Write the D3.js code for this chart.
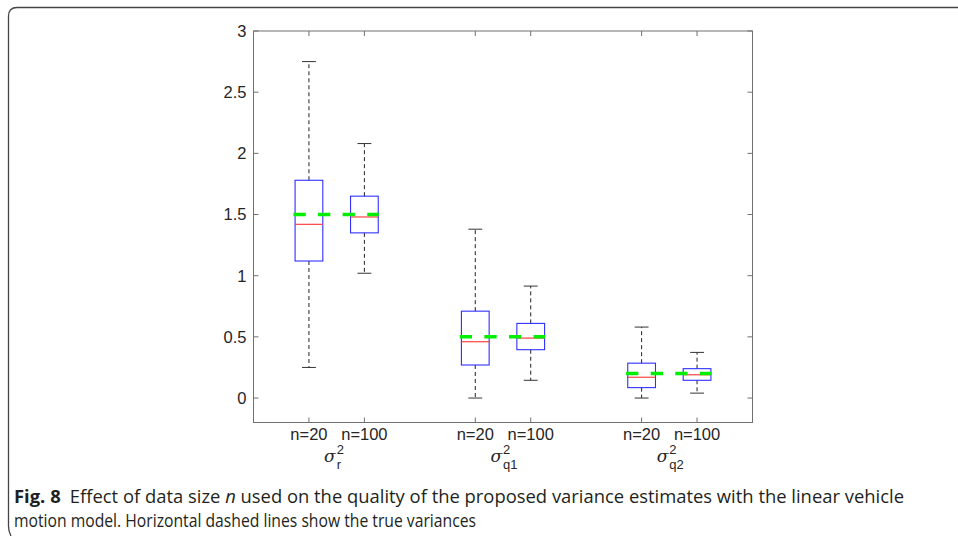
<!DOCTYPE html>
<html>
<head>
<meta charset="utf-8">
<script src="https://cdn.jsdelivr.net/npm/d3@7"></script>
<style>
  body { margin: 0; background: #fff; }
  svg { display: block; }
  .tick-label { font-family: "Liberation Sans", Arial, sans-serif; font-size: 16.5px; fill: #262626; }
  .caption { font-family: "Open Sans", "Noto Sans", sans-serif; font-size: 18.5px; fill: #231f20; }
</style>
</head>
<body>
<div id="chart"></div>
<script>
'use strict';

// box plot summaries (order: r n=20, r n=100, q1 n=20, q1 n=100, q2 n=20, q2 n=100)
const groupSubscripts = ['r', 'q1', 'q2'];
const sizeLabels = ['n=20', 'n=100', 'n=20', 'n=100', 'n=20', 'n=100'];
const positions = [1, 2, 4, 5, 7, 8];
const lowerWhisker = [0.25, 1.02, 0.0, 0.145, 0.0, 0.04];
const lowerQuartile = [1.12, 1.35, 0.27, 0.395, 0.085, 0.145];
const medians = [1.42, 1.48, 0.46, 0.49, 0.17, 0.19];
const upperQuartile = [1.78, 1.65, 0.71, 0.61, 0.285, 0.24];
const upperWhisker = [2.75, 2.08, 1.38, 0.915, 0.58, 0.373];
const trueVariances = [1.5, 0.5, 0.2];
const yTicks = [0, 0.5, 1, 1.5, 2, 2.5, 3];

const width = 958;
const height = 536;
const plot = { left: 253.5, right: 752.5, top: 31, bottom: 422.5 };

const svg = d3.select('#chart').append('svg')
  .attr('width', width)
  .attr('height', height);

const x = d3.scaleLinear().domain([0, 9]).range([plot.left, plot.right]);
const y = d3.scaleLinear().domain([-0.2, 3]).range([plot.bottom, plot.top]);

// outer figure frame (only top and left edges visible)
svg.append('path')
  .attr('d', `M${width},7.5 L17,7.5 Q8.5,7.5 8.5,16 L8.5,526 Q8.5,532 11,536`)
  .attr('fill', 'none')
  .attr('stroke', '#444')
  .attr('stroke-width', 1.3);

// axes box
const axisColor = '#707070';
svg.append('rect')
  .attr('x', plot.left).attr('y', plot.top)
  .attr('width', plot.right - plot.left).attr('height', plot.bottom - plot.top)
  .attr('fill', 'none').attr('stroke', axisColor).attr('stroke-width', 1);

// y ticks (left and right, pointing inward)
const yTickG = svg.append('g');
yTicks.forEach(t => {
  yTickG.append('line')
    .attr('x1', plot.left).attr('x2', plot.left + 5)
    .attr('y1', y(t)).attr('y2', y(t))
    .attr('stroke', axisColor);
  yTickG.append('line')
    .attr('x1', plot.right).attr('x2', plot.right - 5)
    .attr('y1', y(t)).attr('y2', y(t))
    .attr('stroke', axisColor);
  yTickG.append('text')
    .attr('class', 'tick-label')
    .attr('x', plot.left - 7).attr('y', y(t))
    .attr('dy', '0.36em')
    .attr('text-anchor', 'end')
    .text(d3.format('~g')(t));
});

// x ticks (bottom and top)
const xTickG = svg.append('g');
positions.forEach((p, i) => {
  xTickG.append('line')
    .attr('x1', x(p)).attr('x2', x(p))
    .attr('y1', plot.bottom).attr('y2', plot.bottom - 5)
    .attr('stroke', axisColor);
  xTickG.append('line')
    .attr('x1', x(p)).attr('x2', x(p))
    .attr('y1', plot.top).attr('y2', plot.top + 5)
    .attr('stroke', axisColor);
  xTickG.append('text')
    .attr('class', 'tick-label')
    .attr('x', x(p)).attr('y', plot.bottom + 17)
    .attr('text-anchor', 'middle')
    .text(sizeLabels[i]);
});

// group labels: sigma^2 with subscript
groupSubscripts.forEach((sub, g) => {
  const cx = x((positions[2 * g] + positions[2 * g + 1]) / 2);
  const lab = svg.append('g').attr('transform', `translate(${cx},0)`);
  lab.append('text')
    .attr('class', 'tick-label')
    .attr('x', -1).attr('y', plot.bottom + 39)
    .attr('text-anchor', 'end')
    .style('font-family', '"DejaVu Serif", serif')
    .style('font-style', 'italic')
    .style('font-size', '17px')
    .text('σ');
  lab.append('text')
    .attr('class', 'tick-label')
    .attr('x', 0).attr('y', plot.bottom + 31)
    .style('font-size', '13px')
    .text('2');
  lab.append('text')
    .attr('class', 'tick-label')
    .attr('x', 0).attr('y', plot.bottom + 46)
    .style('font-size', '13px')
    .text(sub);
});

// box plots
const boxHalf = 0.25;
const capHalf = 0.125;
const boxes = svg.append('g');
positions.forEach((p, i) => {
  const b = boxes.append('g');
  // whiskers
  b.append('line')
    .attr('x1', x(p)).attr('x2', x(p))
    .attr('y1', y(upperQuartile[i])).attr('y2', y(upperWhisker[i]))
    .attr('stroke', '#222').attr('stroke-dasharray', '4,3');
  b.append('line')
    .attr('x1', x(p)).attr('x2', x(p))
    .attr('y1', y(lowerQuartile[i])).attr('y2', y(lowerWhisker[i]))
    .attr('stroke', '#222').attr('stroke-dasharray', '4,3');
  // caps
  [upperWhisker[i], lowerWhisker[i]].forEach(v => {
    b.append('line')
      .attr('x1', x(p - capHalf)).attr('x2', x(p + capHalf))
      .attr('y1', y(v)).attr('y2', y(v))
      .attr('stroke', '#333');
  });
  // box
  b.append('rect')
    .attr('x', x(p - boxHalf)).attr('y', y(upperQuartile[i]))
    .attr('width', x(p + boxHalf) - x(p - boxHalf))
    .attr('height', y(lowerQuartile[i]) - y(upperQuartile[i]))
    .attr('fill', 'none').attr('stroke', '#3030ff').attr('stroke-width', 1.1);
  // median
  b.append('line')
    .attr('x1', x(p - boxHalf)).attr('x2', x(p + boxHalf))
    .attr('y1', y(medians[i])).attr('y2', y(medians[i]))
    .attr('stroke', '#ff3030').attr('stroke-width', 1.1);
});

// true variances (green dashed)
trueVariances.forEach((v, g) => {
  svg.append('line')
    .attr('x1', x(positions[2 * g] - 0.28)).attr('x2', x(positions[2 * g + 1] + 0.26))
    .attr('y1', y(v)).attr('y2', y(v))
    .attr('stroke', '#00ee00')
    .attr('stroke-width', 3.5)
    .attr('stroke-dasharray', '12.3,12.3');
});

// caption
const cap1 = svg.append('text').attr('class', 'caption')
  .attr('x', 14).attr('y', 503)
  .attr('textLength', 890).attr('lengthAdjust', 'spacingAndGlyphs');
cap1.append('tspan').style('font-weight', 'bold').text('Fig. 8');
cap1.append('tspan').text('\u2002Effect of data size ');
cap1.append('tspan').style('font-style', 'italic').text('n');
cap1.append('tspan').text(' used on the quality of the proposed variance estimates with the linear vehicle');

svg.append('text').attr('class', 'caption')
  .attr('x', 14).attr('y', 527)
  .attr('textLength', 462).attr('lengthAdjust', 'spacingAndGlyphs')
  .text('motion model. Horizontal dashed lines show the true variances');
</script>
</body>
</html>
